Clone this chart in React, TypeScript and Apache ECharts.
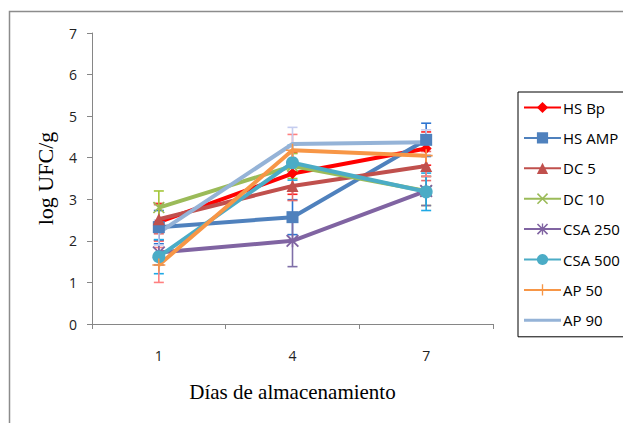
import React, { useEffect, useRef } from "react";
import * as echarts from "echarts";

const days = ["1", "4", "7"];
const seriesNames = ["HS Bp", "HS AMP", "DC 5", "DC 10", "CSA 250", "CSA 500", "AP 50", "AP 90"];

const hsBp = [2.45, 3.62, 4.22];
const hsAmp = [2.33, 2.57, 4.43];
const dc5 = [2.52, 3.32, 3.8];
const dc10 = [2.8, 3.8, 3.2];
const csa250 = [1.72, 2.0, 3.2];
const csa500 = [1.62, 3.88, 3.18];
const ap50 = [1.42, 4.18, 4.05];
const ap90 = [2.2, 4.33, 4.37];

const errHsBp = [0.45, 0.5, 0.4];
const errHsAmp = [0.4, 0.42, 0.4];
const errDc5 = [0.35, 0.35, 0.35];
const errDc10 = [0.4, 0.3, 0.35];
const errCsa250 = [0.3, 0.62, 0.35];
const errCsa500 = [0.41, 0.42, 0.45];
const errAp50 = [0.42, 0.38, 0.5];
const errAp90 = [0.3, 0.4, 0.3];

const yTicks = [0, 1, 2, 3, 4, 5, 6, 7];

const values = [hsBp, hsAmp, dc5, dc10, csa250, csa500, ap50, ap90];
const errors = [errHsBp, errHsAmp, errDc5, errDc10, errCsa250, errCsa500, errAp50, errAp90];
const colors = ["#FF0000", "#4F81BD", "#C0504D", "#9BBB59", "#8064A2", "#4BACC6", "#F79646", "#95B3D7"];
const errColors = ["#FF2020", "#2E75D0", "#E46C6C", "#A4C639", "#7F6FA8", "#1FA9E5", "#FF8080", "#C5CDEF"];

const X_PATH = "path://M0,1L1,0L10,9L9,10ZM9,0L10,1L1,10L0,9Z";
const STAR_PATH = "path://M0,1L1,0L10,9L9,10ZM9,0L10,1L1,10L0,9ZM4.4,0L5.6,0L5.6,10L4.4,10Z";
const PLUS_PATH = "path://M4.4,0L5.6,0L5.6,10L4.4,10ZM0,4.4L10,4.4L10,5.6L0,5.6Z";
const LINE_ICON = "path://M0,0L37,0L37,3L0,3Z";
const symbols = ["diamond", "rect", "triangle", X_PATH, STAR_PATH, "circle", PLUS_PATH, "none"];
const symbolSizes = [11, 12, 12, 12, 13, 13, 13, 0];

export default function App() {
  const ref = useRef<HTMLDivElement>(null);
  useEffect(() => {
    document.body.style.margin = "0";
    const chart = echarts.init(ref.current!, null, { renderer: "svg" });

    const lineSeries = seriesNames.map((name, i) => ({
      name,
      type: "line",
      data: values[i],
      symbol: symbols[i],
      symbolSize: symbolSizes[i],
      showSymbol: symbols[i] !== "none",
      lineStyle: { color: colors[i], width: 4 },
      itemStyle: { color: colors[i] },
      z: 3,
    }));

    const errSeries = seriesNames.map((name, i) => ({
      name: "err " + name,
      type: "custom",
      z: 2,
      silent: true,
      data: values[i].map((v, k) => [k, v, errors[i][k]]),
      renderItem: (params: any, api: any) => {
        const x = api.value(0);
        const v = api.value(1);
        const e = api.value(2);
        const top = api.coord([x, v + e]);
        const bot = api.coord([x, v - e]);
        const cw = 5;
        const style = { stroke: errColors[i], lineWidth: 1.6 };
        return {
          type: "group",
          children: [
            { type: "line", shape: { x1: top[0], y1: top[1], x2: bot[0], y2: bot[1] }, style },
            { type: "line", shape: { x1: top[0] - cw, y1: top[1], x2: top[0] + cw, y2: top[1] }, style },
            { type: "line", shape: { x1: bot[0] - cw, y1: bot[1], x2: bot[0] + cw, y2: bot[1] }, style },
          ],
        };
      },
    }));

    chart.setOption({
      animation: false,
      backgroundColor: "#fff",
      graphic: [
        {
          type: "rect",
          shape: { x: 9.5, y: 11.5, width: 700, height: 500 },
          style: { fill: "none", stroke: "#8c8c8c", lineWidth: 1.5 },
          silent: true,
        },
      ],
      grid: { left: 92, top: 33, width: 401, height: 291, containLabel: false },
      legend: {
        data: seriesNames.map((n, i) => (symbols[i] === "none" ? { name: n, icon: LINE_ICON } : { name: n })),
        orient: "vertical",
        left: 518,
        top: 92,
        padding: [8, 40, 9, 5],
        itemWidth: 37,
        itemHeight: 14,
        itemGap: 15.4,
        borderColor: "#000",
        borderWidth: 1,
        textStyle: { fontFamily: "Open Sans", fontSize: 15, color: "#000", padding: [0, 0, 0, -3] },
      },
      xAxis: {
        type: "category",
        data: days,
        boundaryGap: true,
        name: "Días de almacenamiento",
        nameLocation: "middle",
        nameGap: 57,
        nameTextStyle: { fontFamily: "Liberation Serif", fontSize: 21, color: "#000" },
        axisLine: { lineStyle: { color: "#868686", width: 1 } },
        axisTick: { show: true, length: 5, lineStyle: { color: "#868686" } },
        axisLabel: { margin: 24, fontFamily: "Open Sans", fontSize: 14, color: "#222" },
        splitLine: { show: false },
      },
      yAxis: {
        type: "value",
        min: yTicks[0],
        max: yTicks[yTicks.length - 1],
        interval: 1,
        name: "log UFC/g",
        nameLocation: "middle",
        nameGap: 36,
        nameTextStyle: { fontFamily: "Liberation Serif", fontSize: 22, color: "#000" },
        axisLine: { show: true, lineStyle: { color: "#868686", width: 1 } },
        axisTick: { show: true, length: 5, lineStyle: { color: "#868686" } },
        axisLabel: { margin: 15, fontFamily: "Open Sans", fontSize: 14, color: "#222" },
        splitLine: { show: false },
      },
      series: [...errSeries, ...lineSeries],
    });
    return () => chart.dispose();
  }, []);
  return <div ref={ref} style={{ width: 623, height: 423 }} />;
}
